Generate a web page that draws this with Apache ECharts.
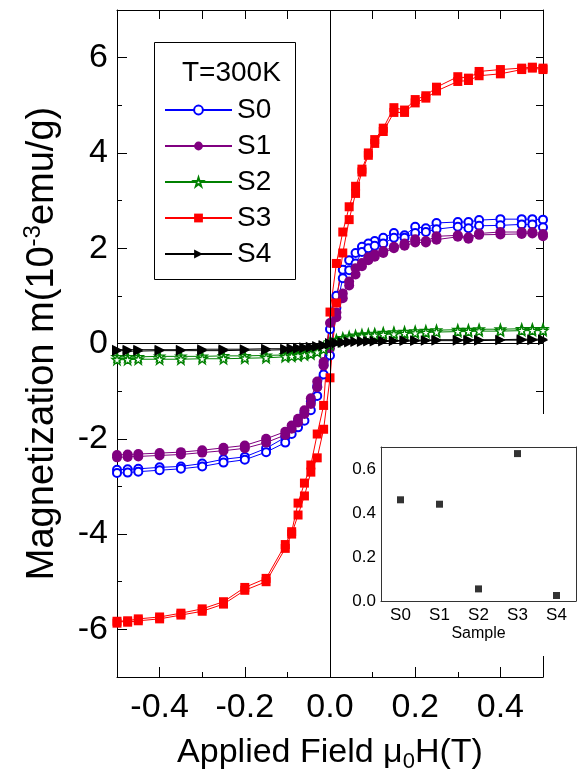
<!DOCTYPE html>
<html><head><meta charset="utf-8">
<script src="https://cdn.jsdelivr.net/npm/echarts@6/dist/echarts.min.js"></script>
<style>html,body{margin:0;padding:0;background:#fff}#c{width:577px;height:773px}</style>
</head><body><div id="c"></div>
<script>
// ---------- data ----------
const FIELD = [-0.5,-0.475,-0.45,-0.4,-0.35,-0.3,-0.25,-0.2,-0.15,-0.105,-0.09,-0.075,-0.06,-0.045,-0.03,-0.015,0,0.015,0.03,0.045,0.06,0.075,0.09,0.105,0.125,0.15,0.175,0.2,0.225,0.25,0.3,0.325,0.35,0.4,0.45,0.475,0.5];

const S0_UP   = [-2.72,-2.71,-2.69,-2.66,-2.63,-2.58,-2.50,-2.44,-2.28,-2.08,-1.90,-1.76,-1.62,-1.40,-1.10,-0.65,-0.25,0.75,1.37,1.54,1.68,1.92,2.00,2.05,2.10,2.22,2.22,2.32,2.34,2.40,2.45,2.42,2.47,2.48,2.50,2.50,2.44];
const S0_DOWN = [-2.65,-2.64,-2.63,-2.60,-2.58,-2.52,-2.43,-2.38,-2.20,-1.97,-1.80,-1.62,-1.45,-1.22,-0.90,-0.45,0.30,1.00,1.55,1.75,1.90,2.03,2.10,2.15,2.22,2.32,2.27,2.45,2.42,2.53,2.55,2.55,2.59,2.61,2.61,2.61,2.60];

const S1_UP   = [-2.39,-2.38,-2.37,-2.35,-2.33,-2.29,-2.25,-2.20,-2.08,-1.92,-1.79,-1.66,-1.48,-1.27,-0.92,-0.46,-0.10,0.55,0.95,1.22,1.45,1.62,1.75,1.82,1.90,2.00,2.05,2.12,2.12,2.18,2.24,2.20,2.28,2.29,2.30,2.31,2.25];
const S1_DOWN = [-2.34,-2.33,-2.32,-2.30,-2.28,-2.24,-2.19,-2.14,-2.00,-1.85,-1.72,-1.58,-1.40,-1.15,-0.80,-0.39,0.43,0.65,1.05,1.30,1.58,1.69,1.81,1.87,1.94,2.03,2.10,2.19,2.15,2.25,2.27,2.23,2.31,2.34,2.34,2.34,2.30];

const S2_UP   = [-0.34,-0.34,-0.33,-0.33,-0.33,-0.32,-0.32,-0.31,-0.30,-0.28,-0.27,-0.26,-0.24,-0.22,-0.18,-0.12,-0.03,0.04,0.08,0.11,0.13,0.15,0.16,0.17,0.19,0.20,0.21,0.22,0.23,0.24,0.25,0.25,0.26,0.26,0.27,0.27,0.27];
const S2_DOWN = [-0.28,-0.28,-0.28,-0.27,-0.27,-0.27,-0.26,-0.26,-0.25,-0.24,-0.23,-0.22,-0.20,-0.18,-0.14,-0.08,0.03,0.08,0.12,0.15,0.17,0.19,0.20,0.21,0.23,0.24,0.25,0.26,0.27,0.28,0.29,0.29,0.30,0.30,0.31,0.31,0.31];

const S3_UP   = [-5.87,-5.85,-5.82,-5.78,-5.70,-5.62,-5.47,-5.18,-5.00,-4.30,-4.00,-3.60,-3.20,-2.70,-2.40,-1.80,-0.72,0.85,1.90,2.60,3.15,3.60,3.95,4.20,4.45,4.85,4.85,5.05,5.15,5.30,5.50,5.52,5.62,5.66,5.75,5.78,5.75];
const S3_DOWN = [-5.83,-5.82,-5.78,-5.74,-5.66,-5.57,-5.42,-5.12,-4.93,-4.22,-3.95,-3.35,-2.93,-2.55,-1.90,-1.30,0.66,1.68,2.34,2.87,3.30,3.66,4.00,4.28,4.52,4.95,4.90,5.12,5.20,5.38,5.60,5.57,5.71,5.75,5.78,5.80,5.78];

const S4_UP   = [-0.16,-0.16,-0.16,-0.15,-0.15,-0.15,-0.15,-0.14,-0.14,-0.13,-0.12,-0.11,-0.10,-0.09,-0.07,-0.05,-0.02,0.00,0.01,0.02,0.03,0.03,0.04,0.04,0.04,0.05,0.05,0.05,0.06,0.06,0.06,0.06,0.06,0.07,0.07,0.07,0.07];
const S4_DOWN = [-0.13,-0.13,-0.13,-0.13,-0.13,-0.12,-0.12,-0.12,-0.11,-0.11,-0.10,-0.09,-0.08,-0.07,-0.05,-0.03,0.01,0.02,0.03,0.04,0.04,0.05,0.05,0.06,0.06,0.06,0.07,0.07,0.07,0.08,0.08,0.08,0.08,0.08,0.09,0.09,0.09];

const SAMPLES = ['S0','S1','S2','S3','S4'];
const INSET_VALUES = [0.46, 0.44, 0.055, 0.67, 0.025];

const X_MAJOR_TICKS = [-0.4,-0.2,0,0.2,0.4];
const X_MINOR_TICKS = [-0.5,-0.3,-0.1,0.1,0.3,0.5];
const Y_MAJOR_TICKS = [-6,-4,-2,0,2,4,6];

// ---------- chart ----------
const FONT = 'Liberation Sans, Arial, sans-serif';
const STAR = 'path://M50,2 L61.8,36.2 L97.6,36.2 L68.6,57.4 L79.4,91.8 L50,70.6 L20.6,91.8 L31.4,57.4 L2.4,36.2 L38.2,36.2 Z';

function loop(down, up) {
  const d = [];
  for (let i = FIELD.length - 1; i >= 0; i--) d.push([FIELD[i], down[i]]);
  for (let i = 0; i < FIELD.length; i++) d.push([FIELD[i], up[i]]);
  return d;
}

const styles = [
  {name:'S0', color:'#0000ff', symbol:'emptyCircle', size:8, down:S0_DOWN, up:S0_UP},
  {name:'S1', color:'#800080', symbol:'circle', size:10, down:S1_DOWN, up:S1_UP},
  {name:'S2', color:'#008000', symbol:STAR, size:10, down:S2_DOWN, up:S2_UP},
  {name:'S3', color:'#ff0000', symbol:'rect', size:9, down:S3_DOWN, up:S3_UP},
  {name:'S4', color:'#000000', symbol:'triangle', size:10, down:S4_DOWN, up:S4_UP, rotate:-90}
];

const mainSeries = styles.map(s => ({
  name: s.name, type: 'line', xAxisIndex: 0, yAxisIndex: 0,
  data: loop(s.down, s.up),
  symbol: s.symbol, symbolSize: s.size, symbolRotate: s.rotate || 0,
  showAllSymbol: true,
  lineStyle: {color: s.color, width: 1},
  itemStyle: s.symbol === 'emptyCircle' ? {color: s.color, borderWidth: 1.2}
           : (s.name === 'S2' ? {color: '#ffffff', borderColor: s.color, borderWidth: 1.3}
                              : {color: s.color}),
  emphasis: {disabled: true},
  animation: false, z: 3
}));

const axisLine = {show: true, onZero: false, lineStyle: {color: '#000', width: 1}};
const insetLine = {show: true, onZero: false, lineStyle: {color: '#333', width: 1}};
const noLine = {show: false, onZero: false};
const tickStyle = {color: '#000', width: 1};

const option = {
  animation: false,
  backgroundColor: '#fff',
  textStyle: {fontFamily: FONT},
  grid: [
    {left: 117, top: 10, width: 426, height: 667, containLabel: false, outerBoundsMode: 'none'},
    {left: 381, top: 447, width: 195, height: 154, containLabel: false, outerBoundsMode: 'none'}
  ],
  xAxis: [
    {gridIndex: 0, type: 'value', min: -0.5, max: 0.5, position: 'bottom',
     axisLine, splitLine: {show: false},
     axisTick: {inside: true, length: 10, lineStyle: tickStyle, customValues: X_MAJOR_TICKS},
     axisLabel: {customValues: X_MAJOR_TICKS, formatter: v => v.toFixed(1), fontSize: 34, color: '#000', margin: 14, fontFamily: FONT},
     name: 'Applied Field μ{sub|0}H(T)', nameLocation: 'middle', nameGap: 56,
     nameTextStyle: {fontSize: 34, color: '#000', fontFamily: FONT, lineHeight: 40,
       rich: {sub: {fontSize: 22, lineHeight: 22, padding: [18, 0, 0, 0], fontFamily: FONT, color: '#000'}}}},
    {gridIndex: 0, type: 'value', min: -0.5, max: 0.5, position: 'bottom',
     axisLine: noLine, splitLine: {show: false},
     axisTick: {inside: true, length: 5, lineStyle: tickStyle, customValues: X_MINOR_TICKS},
     axisLabel: {show: false}},
    {gridIndex: 0, type: 'value', min: -0.5, max: 0.5, interval: 0.1, position: 'top',
     axisLine, splitLine: {show: false},
     axisTick: {inside: true, length: 9, lineStyle: tickStyle},
     axisLabel: {show: false}},
    // inset
    {gridIndex: 1, type: 'category', data: SAMPLES, boundaryGap: true, position: 'bottom', z: 60,
     axisLine: insetLine,
     axisTick: {inside: true, alignWithLabel: true, length: 4, lineStyle: {color: '#333'}},
     axisLabel: {fontSize: 17, color: '#000', margin: 6, fontFamily: FONT},
     name: 'Sample', nameLocation: 'middle', nameGap: 25,
     nameTextStyle: {fontSize: 16, color: '#000', fontFamily: FONT}},
    {gridIndex: 1, type: 'category', data: SAMPLES, boundaryGap: true, position: 'bottom', z: 60,
     axisLine: noLine,
     axisTick: {inside: true, alignWithLabel: false, length: 3, lineStyle: {color: '#333'}},
     axisLabel: {show: false}},
    {gridIndex: 1, type: 'category', data: SAMPLES, boundaryGap: true, position: 'top', z: 60,
     axisLine: insetLine,
     axisTick: {inside: true, alignWithLabel: false, length: 3, lineStyle: {color: '#333'}},
     axisLabel: {show: false}}
  ],
  yAxis: [
    {gridIndex: 0, type: 'value', min: -7, max: 7, position: 'left',
     axisLine, splitLine: {show: false},
     axisTick: {inside: true, length: 10, lineStyle: tickStyle, customValues: Y_MAJOR_TICKS},
     axisLabel: {customValues: Y_MAJOR_TICKS, fontSize: 34, color: '#000', margin: 9, fontFamily: FONT},
     name: 'Magnetization m(10{sup|-3}emu/g)', nameLocation: 'middle', nameGap: 52,
     nameTextStyle: {fontSize: 38, color: '#000', fontFamily: FONT, lineHeight: 44,
       rich: {sup: {fontSize: 24, lineHeight: 24, padding: [0, 0, 20, 0], fontFamily: FONT, color: '#000'}}}},
    {gridIndex: 0, type: 'value', min: -7, max: 7, interval: 1, position: 'left',
     axisLine: noLine, splitLine: {show: false},
     axisTick: {inside: true, length: 5, lineStyle: tickStyle},
     axisLabel: {show: false}},
    {gridIndex: 0, type: 'value', min: -7, max: 7, interval: 1, position: 'right',
     axisLine, splitLine: {show: false},
     axisTick: {inside: true, length: 7, lineStyle: tickStyle},
     axisLabel: {show: false}},
    // inset
    {gridIndex: 1, type: 'value', min: 0, max: 0.7, interval: 0.1, position: 'left', z: 60,
     axisLine: insetLine, splitLine: {show: false},
     axisTick: {inside: true, length: 4, lineStyle: {color: '#333'}},
     axisLabel: {fontSize: 17, color: '#000', margin: 5, fontFamily: FONT,
       formatter: v => (Math.round(v * 10) % 2 === 0 ? v.toFixed(1) : '')}},
    {gridIndex: 1, type: 'value', min: 0, max: 0.7, interval: 0.1, position: 'right', z: 60,
     axisLine: insetLine, splitLine: {show: false},
     axisTick: {inside: true, length: 4, lineStyle: {color: '#333'}},
     axisLabel: {show: false}}
  ],
  legend: {
    data: SAMPLES, orient: 'vertical', left: 164, top: 96, padding: 0,
    itemWidth: 67, itemHeight: 11, itemGap: 8, selectedMode: false,
    textStyle: {fontSize: 28, color: '#000', fontFamily: FONT}, z: 6
  },
  graphic: [
    {type: 'rect', z: 50, silent: true, shape: {x: 338, y: 414, width: 239, height: 242}, style: {fill: '#fff'}},
    {type: 'rect', z: 5, silent: true, shape: {x: 154.5, y: 42.5, width: 141, height: 237}, style: {fill: 'none', stroke: '#000', lineWidth: 1}},
    {type: 'text', z: 6, silent: true, x: 182, y: 73, style: {text: 'T=300K', fontSize: 28, fontFamily: FONT, fill: '#000', verticalAlign: 'middle'}}
  ],
  series: [
    {type: 'line', xAxisIndex: 0, yAxisIndex: 0, data: [], silent: true, z: 1,
     markLine: {silent: true, symbol: 'none', animation: false, label: {show: false},
       lineStyle: {color: '#000', width: 1, type: 'solid'},
       data: [{xAxis: 0}, {yAxis: 0}]}},
    ...mainSeries,
    {name: 'inset', type: 'scatter', xAxisIndex: 3, yAxisIndex: 3, data: INSET_VALUES,
     symbol: 'rect', symbolSize: 7, itemStyle: {color: '#000'}, z: 60, silent: true}
  ]
};

const chart = echarts.init(document.getElementById('c'), null, {renderer: 'canvas'});
chart.setOption(option);
</script>
</body></html>
